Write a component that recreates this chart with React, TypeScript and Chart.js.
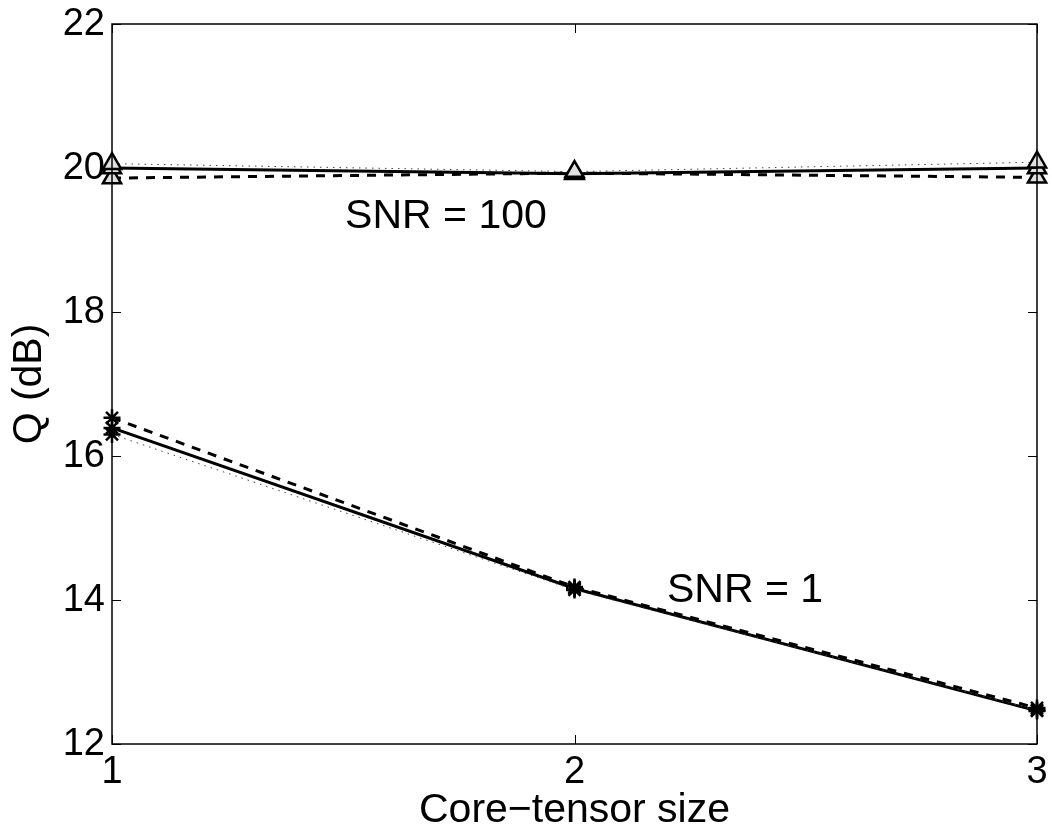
import React, { useEffect, useRef } from "react";
import { Chart, registerables } from "chart.js";

Chart.register(...registerables);

const xCategories = [1, 2, 3];
const yTicks = [12, 14, 16, 18, 20, 22];

const snr100Dotted = [20.06, 19.95, 20.08];
const snr100Solid = [20.0, 19.92, 20.0];
const snr100Dashed = [19.86, 19.93, 19.87];

const snr1Dashed = [16.53, 14.18, 12.5];
const snr1Solid = [16.39, 14.16, 12.46];
const snr1Dotted = [16.3, 14.14, 12.47];

const annotations = [
  { text: "SNR = 100", x: 1.504, y: 19.32 },
  { text: "SNR = 1", x: 2.2, y: 14.13 },
];

const xTitle = "Core\u2212tensor size";
const yTitle = "Q (dB)";

const FONT = "'Liberation Sans', Arial, Helvetica, sans-serif";
const FS = 38;
const FS_BIG = 41;

const toPts = (arr: number[]) => arr.map((v, i) => ({ x: xCategories[i], y: v }));

const framePlugin = {
  id: "frame",
  afterDraw(chart: any) {
    const { ctx, chartArea } = chart;
    const { left, right, top, bottom } = chartArea;
    const xs = chart.scales.x;
    const ys = chart.scales.y;
    ctx.save();
    ctx.strokeStyle = "#000";
    ctx.lineWidth = 1.5;
    ctx.strokeRect(left, top, right - left, bottom - top);
    const tl = 9;
    ctx.lineWidth = 1;
    ctx.beginPath();
    yTicks.forEach((v) => {
      const py = Math.round(ys.getPixelForValue(v)) + 0.5;
      ctx.moveTo(left, py);
      ctx.lineTo(left + tl, py);
      ctx.moveTo(right, py);
      ctx.lineTo(right - tl, py);
    });
    xCategories.forEach((v) => {
      const px = Math.round(xs.getPixelForValue(v)) + 0.5;
      ctx.moveTo(px, bottom);
      ctx.lineTo(px, bottom - tl);
      ctx.moveTo(px, top);
      ctx.lineTo(px, top + tl);
    });
    ctx.stroke();

    ctx.fillStyle = "#000";
    ctx.font = `${FS}px ${FONT}`;
    ctx.textBaseline = "middle";
    ctx.textAlign = "right";
    yTicks.forEach((v) => {
      ctx.fillText(String(v), left - 7, ys.getPixelForValue(v) + 1);
    });
    ctx.textAlign = "center";
    xCategories.forEach((v) => {
      ctx.fillText(String(v), xs.getPixelForValue(v), bottom + 29);
    });

    ctx.font = `${FS_BIG}px ${FONT}`;
    ctx.textAlign = "left";
    annotations.forEach((a) => {
      ctx.fillText(a.text, xs.getPixelForValue(a.x), ys.getPixelForValue(a.y));
    });

    ctx.textAlign = "center";
    ctx.fillText(xTitle, (left + right) / 2, 811);
    ctx.translate(30, (top + bottom) / 2);
    ctx.rotate(-Math.PI / 2);
    ctx.fillText(yTitle, 0, 0);
    ctx.restore();
  },
};

export default function App() {
  const ref = useRef<HTMLCanvasElement>(null);
  useEffect(() => {
    if (!ref.current) return;
    const triStyle = {
      pointStyle: "triangle",
      pointRadius: 10.5,
      pointBackgroundColor: "#e0e0e0",
      pointBorderColor: "#000",
      pointBorderWidth: 2.5,
      clip: false,
    };
    const starStyle = {
      pointStyle: "star",
      pointRadius: 8.5,
      pointBackgroundColor: "#000",
      pointBorderColor: "#000",
      pointBorderWidth: 2.5,
      clip: false,
    };
    const dotted = { borderColor: "#444", borderWidth: 1, borderDash: [1.5, 5] };
    const solid = { borderColor: "#000", borderWidth: 3 };
    const dashed = { borderColor: "#000", borderWidth: 3, borderDash: [9, 8] };
    const chart = new Chart(ref.current, {
      type: "line",
      data: {
        datasets: [
          { data: toPts(snr100Dotted), ...dotted, ...triStyle },
          { data: toPts(snr100Solid), ...solid, ...triStyle },
          { data: toPts(snr100Dashed), ...dashed, ...triStyle },
          { data: toPts(snr1Dotted), ...dotted, ...starStyle },
          { data: toPts(snr1Solid), ...solid, ...starStyle },
          { data: toPts(snr1Dashed), ...dashed, ...starStyle },
        ] as any,
      },
      options: {
        animation: false,
        responsive: false,
        maintainAspectRatio: false,
        layout: { padding: { top: 24, right: 15, left: 0, bottom: 0 } },
        plugins: { legend: { display: false }, tooltip: { enabled: false } },
        elements: { line: { tension: 0 } },
        scales: {
          x: {
            type: "linear",
            min: 1,
            max: 3,
            afterFit: (s: any) => { s.height = 92; },
            grid: { display: false, drawTicks: false },
            border: { display: false },
            ticks: { display: false },
          },
          y: {
            type: "linear",
            min: 12,
            max: 22,
            afterFit: (s: any) => { s.width = 112; },
            grid: { display: false, drawTicks: false },
            border: { display: false },
            ticks: { display: false },
          },
        },
      } as any,
      plugins: [framePlugin],
    });
    return () => chart.destroy();
  }, []);
  return (
    <div style={{ position: "fixed", left: 0, top: 0, width: 1052, height: 836, background: "#fff" }}>
      <canvas ref={ref} width={1052} height={836} style={{ width: 1052, height: 836 }} />
    </div>
  );
}
